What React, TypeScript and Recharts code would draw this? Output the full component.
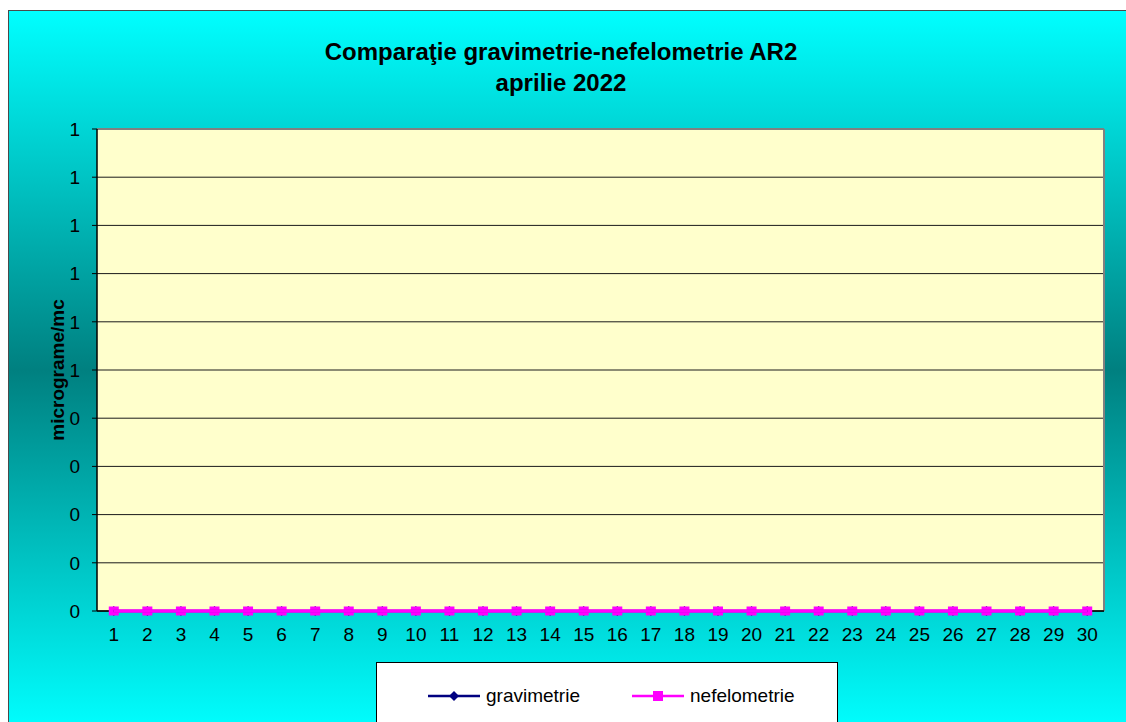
import React from "react";
import {
  LineChart,
  Line,
  XAxis,
  YAxis,
  CartesianGrid,
  ReferenceLine,
} from "recharts";

// days of April 2022
const days = [
  1, 2, 3, 4, 5, 6, 7, 8, 9, 10, 11, 12, 13, 14, 15, 16, 17, 18, 19, 20, 21,
  22, 23, 24, 25, 26, 27, 28, 29, 30,
];

// category borders, used for the small tick marks under the axis
const dayEdges = [
  0.5, 1.5, 2.5, 3.5, 4.5, 5.5, 6.5, 7.5, 8.5, 9.5, 10.5, 11.5, 12.5, 13.5,
  14.5, 15.5, 16.5, 17.5, 18.5, 19.5, 20.5, 21.5, 22.5, 23.5, 24.5, 25.5, 26.5,
  27.5, 28.5, 29.5, 30.5,
];

const gravimetrie = [
  0, 0, 0, 0, 0, 0, 0, 0, 0, 0, 0, 0, 0, 0, 0, 0, 0, 0, 0, 0, 0, 0, 0, 0, 0, 0,
  0, 0, 0, 0,
];

const nefelometrie = [
  0, 0, 0, 0, 0, 0, 0, 0, 0, 0, 0, 0, 0, 0, 0, 0, 0, 0, 0, 0, 0, 0, 0, 0, 0, 0,
  0, 0, 0, 0,
];

const yTicks = [0, 0.1, 0.2, 0.3, 0.4, 0.5, 0.6, 0.7, 0.8, 0.9, 1];

const titleLines = ["Comparaţie gravimetrie-nefelometrie AR2", "aprilie 2022"];
const yAxisTitle = "micrograme/mc";
const seriesNames = ["gravimetrie", "nefelometrie"];

const NAVY = "#000080";
const PINK = "#FF00FF";
const FONT = "'Liberation Sans', Arial, sans-serif";

const data = days.map((day, i) => ({
  day,
  gravimetrie: gravimetrie[i],
  nefelometrie: nefelometrie[i],
}));

function DiamondDot(props: any) {
  const { cx, cy, index } = props;
  if (cx == null || cy == null) return null;
  return (
    <path
      key={"g" + index}
      d={`M${cx} ${cy - 5}L${cx + 5} ${cy}L${cx} ${cy + 5}L${cx - 5} ${cy}Z`}
      fill={NAVY}
    />
  );
}

function SquareDot(props: any) {
  const { cx, cy, index } = props;
  if (cx == null || cy == null) return null;
  return (
    <rect key={"n" + index} x={cx - 5} y={cy - 4.5} width={10} height={9} fill={PINK} />
  );
}

function YTitle(props: any) {
  const vb = props.viewBox || { x: 0, y: 0, width: 0, height: 0 };
  const x = vb.x + 48;
  const y = vb.y + vb.height / 2;
  return (
    <text
      x={x}
      y={y}
      transform={`rotate(-90 ${x} ${y})`}
      textAnchor="middle"
      dominantBaseline="central"
      fontFamily={FONT}
      fontWeight="bold"
      fontSize={19}
      fill="#000"
    >
      {yAxisTitle}
    </text>
  );
}

function LegendBox() {
  const icons = [
    <svg width={52} height={12} key="g">
      <line x1={0} y1={6} x2={52} y2={6} stroke={NAVY} strokeWidth={2.5} />
      <path d="M26 1L31 6L26 11L21 6Z" fill={NAVY} />
    </svg>,
    <svg width={52} height={12} key="n">
      <line x1={0} y1={6} x2={52} y2={6} stroke={PINK} strokeWidth={2.5} />
      <rect x={21} y={1} width={10} height={10} fill={PINK} />
    </svg>,
  ];
  const lefts = [51, 255];
  return (
    <div
      style={{
        position: "absolute",
        left: 367,
        top: 651,
        width: 462,
        height: 90,
        background: "#fff",
        border: "1px solid #000",
        boxSizing: "border-box",
        fontFamily: FONT,
        fontSize: 19,
      }}
    >
      {seriesNames.map((name, i) => (
        <div
          key={name}
          style={{
            position: "absolute",
            left: lefts[i],
            top: 21,
            height: 24,
            display: "flex",
            alignItems: "center",
            gap: 6,
            whiteSpace: "nowrap",
          }}
        >
          {icons[i]}
          <span>{name}</span>
        </div>
      ))}
    </div>
  );
}

export default function App() {
  return (
    <div
      style={{
        position: "absolute",
        left: 0,
        top: 0,
        width: 1126,
        height: 722,
        overflow: "hidden",
        background: "#fff",
      }}
    >
      <div
        style={{
          position: "absolute",
          left: 8,
          top: 10,
          width: 1130,
          height: 720,
          border: "1px solid #4a4a4a",
          boxSizing: "border-box",
          background:
            "linear-gradient(to bottom, #00FFFF 0%, #008080 50%, #00FFFF 100%)",
        }}
      >
        <div
          style={{
            position: "absolute",
            left: 0,
            top: 25,
            width: 1104,
            textAlign: "center",
            fontFamily: FONT,
            fontWeight: "bold",
            fontSize: 24,
            lineHeight: "31px",
            color: "#000",
          }}
        >
          {titleLines.map((t) => (
            <div key={t}>{t}</div>
          ))}
        </div>

        <div style={{ position: "absolute", left: 0, top: 0 }}>
          <LineChart
            width={1128}
            height={718}
            data={data}
            margin={{ top: 118, right: 33, bottom: 78, left: 0 }}
          >
            <CartesianGrid
              xAxisId="days"
              vertical={false}
              stroke="#1a1a1a"
              fill="#FFFFCC"
              fillOpacity={1}
            />
            <XAxis
              xAxisId="edges"
              type="number"
              dataKey="day"
              domain={[0.5, 30.5]}
              ticks={dayEdges}
              tick={false}
              tickSize={6}
              tickLine={{ stroke: "#000", strokeWidth: 1.5 }}
              axisLine={false}
              height={0}
              allowDecimals
            />
            <XAxis
              xAxisId="days"
              type="number"
              dataKey="day"
              domain={[0.5, 30.5]}
              ticks={days}
              interval={0}
              tickLine={false}
              tickSize={0}
              tickMargin={17}
              axisLine={{ stroke: "#000", strokeWidth: 1.5 }}
              tick={{ fill: "#000", fontSize: 19, fontFamily: FONT }}
              height={40}
            />
            <YAxis
              type="number"
              domain={[0, 1]}
              ticks={yTicks}
              interval={0}
              width={88}
              tickSize={5}
              tickMargin={12}
              tickFormatter={(v: number) => String(Math.round(v))}
              tick={{ fill: "#000", fontSize: 19, fontFamily: FONT }}
              tickLine={{ stroke: "#000" }}
              axisLine={{ stroke: "#000", strokeWidth: 1.5 }}
              label={{ content: <YTitle /> }}
            />
            <ReferenceLine xAxisId="days" y={1} stroke="#808080" strokeWidth={2} />
            <ReferenceLine xAxisId="days" x={30.5} stroke="#808080" strokeWidth={2} />
            <Line
              xAxisId="days"
              dataKey="gravimetrie"
              name={seriesNames[0]}
              stroke={NAVY}
              strokeWidth={2.5}
              dot={DiamondDot}
              isAnimationActive={false}
              zIndex={700}
            />
            <Line
              xAxisId="days"
              dataKey="nefelometrie"
              name={seriesNames[1]}
              stroke={PINK}
              strokeWidth={3.5}
              dot={SquareDot}
              isAnimationActive={false}
              zIndex={710}
            />
          </LineChart>
        </div>

        <LegendBox />
      </div>
    </div>
  );
}
